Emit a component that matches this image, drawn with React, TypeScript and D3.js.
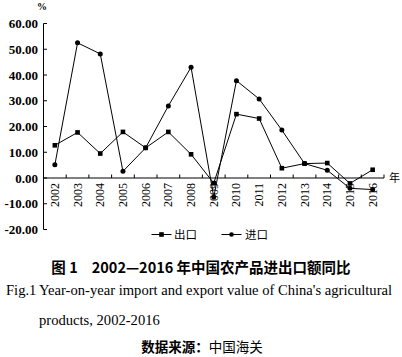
import React from "react";
import * as d3 from "d3";

const years = ["2002","2003","2004","2005","2006","2007","2008","2009","2010","2011","2012","2013","2014","2015","2016"];
const exportsVals = [12.7, 17.7, 9.5, 17.9, 11.7, 17.9, 9.2, -2.0, 24.8, 23.1, 3.8, 5.6, 5.8, -2.1, 3.2];
const importsVals = [5.1, 52.5, 48.2, 2.6, 11.7, 28.0, 43.0, -7.4, 37.8, 30.7, 18.6, 5.6, 3.0, -4.0, -4.5];
const yTicks = [-20, -10, 0, 10, 20, 30, 40, 50, 60];
const seriesNames = ["出口", "进口"];

export default function App() {
  const W = 402, H = 357;
  const x = d3.scaleBand().domain(years).range([43.5, 384]).padding(0);
  const y = d3.scaleLinear().domain([-20, 60]).range([229.5, 23.5]);
  const line = d3.line<number>().x((_, i) => (x(years[i]) as number) + x.bandwidth() / 2).y(d => y(d));
  const serif = "'Liberation Serif', 'Times New Roman', serif";
  const cjk = "'Noto Sans CJK SC', sans-serif";
  const bounds = years.map((_, i) => 43.5 + x.step() * (i + 1));
  return (
    <svg width={W} height={H} style={{ position: "absolute", left: 0, top: 0, background: "#fff" }}>
      <rect width={W} height={H} fill="#fff" />
      <text x={42} y={10} fontFamily={serif} fontSize={10} fontWeight="bold" textAnchor="middle">%</text>
      {/* y axis */}
      <line x1={43.5} x2={43.5} y1={y(60)} y2={y(-20)} stroke="#000" strokeWidth={1} />
      {yTicks.map(t => (
        <g key={t}>
          <line x1={43.5} x2={47} y1={y(t)} y2={y(t)} stroke="#000" />
          <text x={38} y={y(t)} dy="0.35em" textAnchor="end" fontFamily={serif} fontWeight="bold" fontSize={13}>{t.toFixed(2)}</text>
        </g>
      ))}
      {/* x axis */}
      <line x1={43.5} x2={384} y1={y(0)} y2={y(0)} stroke="#000" />
      {bounds.map((b, i) => (
        <line key={i} x1={b} x2={b} y1={y(0)} y2={y(0) - 3.5} stroke="#000" />
      ))}
      {years.map(yr => {
        const cx = (x(yr) as number) + x.bandwidth() / 2;
        return (
          <text key={yr} transform={`translate(${cx + 4},${y(0) + 5}) rotate(-90)`} textAnchor="end"
            fontFamily={serif} fontSize={12}>{yr}</text>
        );
      })}
      <text x={389} y={y(0) + 4} fontFamily={cjk} fontSize={11}>年</text>
      {/* lines */}
      <path d={line(exportsVals) || ""} fill="none" stroke="#000" strokeWidth={1} />
      <path d={line(importsVals) || ""} fill="none" stroke="#000" strokeWidth={1} />
      {exportsVals.map((v, i) => (
        <rect key={"e" + i} x={(x(years[i]) as number) + x.bandwidth() / 2 - 2.3} y={y(v) - 2.3} width={4.6} height={4.6} fill="#000" />
      ))}
      {importsVals.map((v, i) => (
        <circle key={"i" + i} cx={(x(years[i]) as number) + x.bandwidth() / 2} cy={y(v)} r={2.5} fill="#000" />
      ))}
      {/* legend */}
      <line x1={151.5} x2={171.5} y1={234.5} y2={234.5} stroke="#000" />
      <rect x={159.2} y={232.2} width={4.6} height={4.6} fill="#000" />
      <text x={174} y={234.5} dy="0.36em" fontFamily={cjk} fontSize={11.5}>{seriesNames[0]}</text>
      <line x1={221.5} x2={241.5} y1={234.5} y2={234.5} stroke="#000" />
      <circle cx={231.5} cy={234.5} r={2.3} fill="#000" />
      <text x={245} y={234.5} dy="0.36em" fontFamily={cjk} fontSize={11.5}>{seriesNames[1]}</text>
      {/* captions */}
      <text x={201} y={273} textAnchor="middle" fontFamily={cjk} fontWeight="bold" fontSize={14.5}>
        <tspan>图 1</tspan><tspan dx={14}>2002—2016 年中国农产品进出口额同比</tspan>
      </text>
      <text x={6} y={295} fontFamily={serif} fontSize={14.6}>
        <tspan>Fig.1</tspan><tspan x={39}>Year-on-year import and export value of China's agricultural</tspan>
      </text>
      <text x={39} y={325} fontFamily={serif} fontSize={14.6}>products, 2002-2016</text>
      <text x={202} y={352} textAnchor="middle" fontFamily={cjk} fontSize={13.5}>
        <tspan fontWeight="bold">数据来源：</tspan><tspan>中国海关</tspan>
      </text>
    </svg>
  );
}
